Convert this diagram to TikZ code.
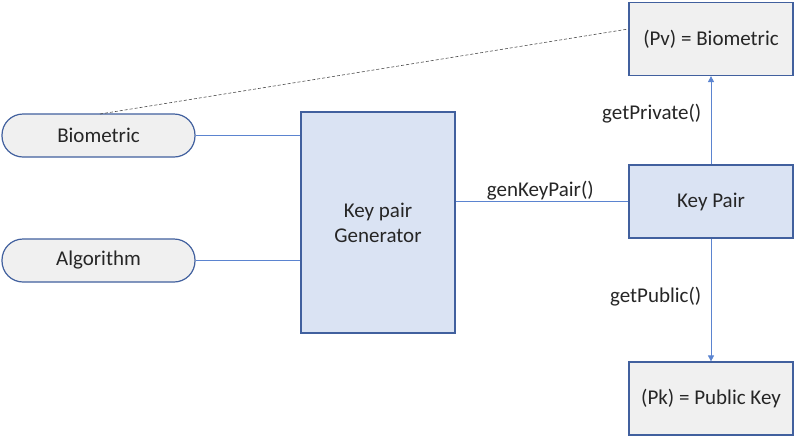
\documentclass[tikz,border=0pt]{standalone}
\usepackage{fontspec}
\setmainfont{Carlito}
\usetikzlibrary{arrows.meta}
\definecolor{edgeblue}{HTML}{41609E}
\definecolor{lineblue}{HTML}{5B84D0}
\definecolor{boxgray}{HTML}{F0F0F0}
\definecolor{boxblue}{HTML}{DAE3F3}
\tikzset{
  txt/.style={font=\fontsize{21}{25}\selectfont, text=black!85},
  pill/.style={txt, draw=edgeblue, line width=1.2pt, fill=boxgray, rounded corners=21pt,
    minimum width=193pt, minimum height=43pt, inner sep=0pt},
  graybox/.style={txt, draw=edgeblue, line width=1.2pt, fill=boxgray,
    minimum width=164pt, minimum height=73pt, inner sep=0pt},
  bluebox/.style={txt, draw=edgeblue, line width=1.2pt, fill=boxblue,
    inner sep=0pt, align=center},
  link/.style={draw=lineblue, line width=0.7pt},
  arrowlink/.style={link, -{Triangle[width=6pt,length=6pt]}},
  lbl/.style={txt}
}
\begin{document}
\begin{tikzpicture}[x=1pt,y=-1pt]
  \useasboundingbox (0,0) rectangle (795,437);
  % input nodes
  \node[pill] (bio) at (98.5,135.5) {Biometric};
  \node[pill] (alg) at (98.5,260.5) {Algorithm};
  % generator
  \node[bluebox, minimum width=154pt, minimum height=221pt] (gen) at (378,222.5) {Key pair\\Generator};
  % key pair and its parts
  \node[bluebox, minimum width=164pt, minimum height=73pt] (kp) at (711,201.5) {Key Pair};
  \node[graybox] (pv) at (711,39) {(Pv) = Biometric};
  \node[graybox] (pk) at (711,398.5) {(Pk) = Public Key};
  % connectors
  \draw[link] (bio.east) -- (bio.east -| gen.west);
  \draw[link] (alg.east) -- (alg.east -| gen.west);
  \draw[link] (kp.west -| gen.east) -- node[lbl, above=-2pt, pos=0.49] {genKeyPair()} (kp.west);
  \draw[arrowlink] (kp.north) -- node[lbl, left=6pt, pos=0.58] {getPrivate()} (pv.south);
  \draw[arrowlink] (kp.south) -- node[lbl, left=6pt, pos=0.47] {getPublic()} (pk.north);
  \coordinate (biotop) at (100,114);
  \draw[densely dashed, black!70, line width=0.6pt] (biotop) -- (pv.west |- 0,29);
\end{tikzpicture}
\end{document}
